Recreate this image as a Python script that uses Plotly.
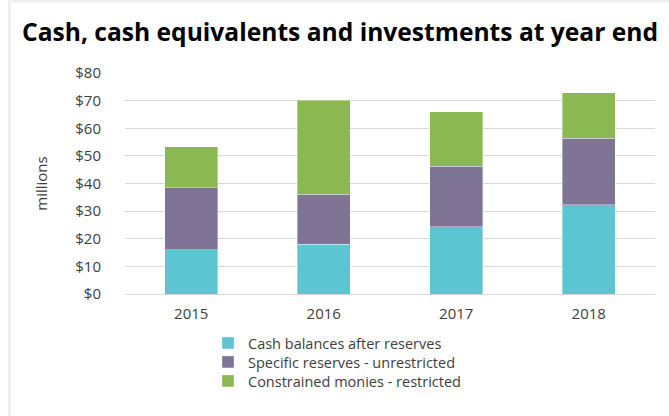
import plotly.graph_objects as go

# Data (millions of dollars)
years = ["2015", "2016", "2017", "2018"]
cash_after_reserves = [16.0, 18.1, 24.3, 32.3]
specific_reserves = [22.5, 18.0, 21.9, 24.0]
constrained_monies = [14.8, 34.0, 19.7, 16.6]

series_names = [
    "Cash balances after reserves",
    "Specific reserves - unrestricted",
    "Constrained monies - restricted",
]
colors = ["#5bc5d2", "#7f7496", "#8cb852"]
legend_ids = ["legend", "legend2", "legend3"]

fig = go.Figure()
for name, vals, col, lg in zip(series_names,
                               [cash_after_reserves, specific_reserves, constrained_monies],
                               colors, legend_ids):
    fig.add_trace(go.Bar(
        x=years, y=vals, name=name, legend=lg,
        marker=dict(color=col, line=dict(color="rgba(255,255,255,0.6)", width=0.6)),
        width=0.4,
    ))

# page frame (light gray edge on left and top)
fig.add_shape(type="line", xref="paper", yref="paper",
              x0=-0.218, x1=-0.218, y0=-0.6, y1=1.33,
              line=dict(color="#efefef", width=3))
fig.add_shape(type="line", xref="paper", yref="paper",
              x0=-0.218, x1=1.05, y0=1.3258, y1=1.3258,
              line=dict(color="#efefef", width=3))

# one legend per series so the row spacing can match the original
legend_style = dict(
    orientation="v", x=0.1566, xanchor="left", yanchor="middle",
    font=dict(size=14.5, color="#404040"), bgcolor="rgba(0,0,0,0)",
)
fig.update_layout(
    barmode="stack",
    width=669, height=416,
    margin=dict(l=125, r=14, t=73, b=122),
    paper_bgcolor="white",
    plot_bgcolor="white",
    font=dict(family="Open Sans", color="#404040", size=15),
    title=dict(
        text="<b>Cash, cash equivalents and investments at year end</b>",
        x=22 / 669, xanchor="left", y=1 - 32 / 416, yanchor="middle",
        font=dict(size=24.6, color="#000000", family="Open Sans"),
    ),
    showlegend=True,
    legend=dict(legend_style, y=-0.2217),
    legend2=dict(legend_style, y=-0.3077),
    legend3=dict(legend_style, y=-0.3937),
    bargap=0.6,
)

fig.update_xaxes(
    showgrid=False, showline=True, linecolor="#d9d9d9", linewidth=1,
    ticks="", ticklabelstandoff=6, tickfont=dict(size=15, color="#404040"),
)
fig.update_yaxes(
    range=[0, 80], dtick=10, tickprefix="$",
    showgrid=True, gridcolor="#d9d9d9", gridwidth=1,
    zeroline=False, showline=False, ticks="", ticklabelstandoff=23,
    automargin=False,
    tickfont=dict(size=15, color="#404040"),
    title=dict(text="millions", font=dict(size=15, color="#404040"), standoff=24),
)

fig.write_html("out.html", config={"displayModeBar": False},
               post_script="document.body.style.margin='0';")
